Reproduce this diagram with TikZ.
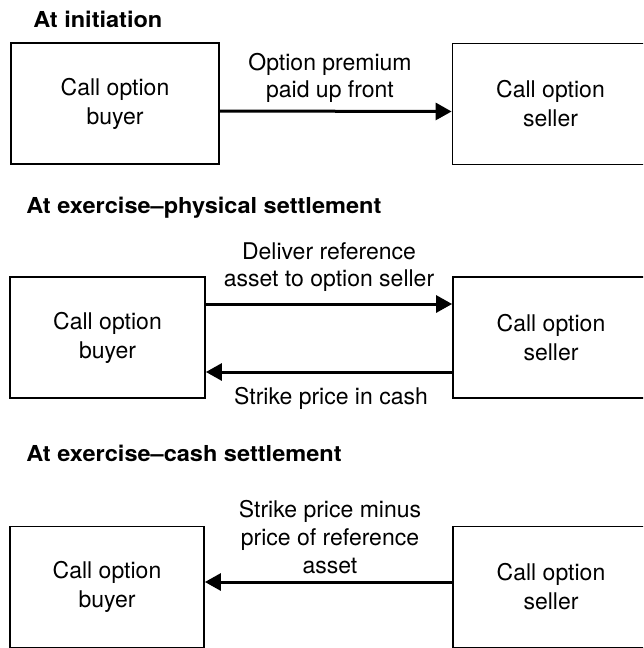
\documentclass[tikz,border=0pt]{standalone}
\usepackage{fontspec}
\setmainfont{TeX Gyre Heros}
\newfontfamily\headfont{TeX Gyre Heros}[FakeStretch=1.07, Ligatures=TeX]
\usetikzlibrary{arrows.meta}

\begin{document}
\begin{tikzpicture}[
             x                = 0.5pt,
             y                = -0.5pt,
             party/.style     = {draw, line width=0.9pt, minimum height=60.5pt,
                                 inner sep=0pt, align=center,
                                 font=\fontsize{11.5}{14.5}\selectfont},
             flowlabel/.style = {align=center, inner sep=0pt,
                                 font=\fontsize{11.5}{13.8}\selectfont},
             heading/.style   = {anchor=base west, inner sep=0pt,
                                 font=\headfont\bfseries\fontsize{11}{13}\selectfont},
             flow/.style      = {line width=1.5pt, -{Triangle[length=8pt, width=8.5pt]}}]
             \useasboundingbox (0,0) rectangle (643,648);
             \clip (0,0) rectangle (643,648);
             % at initiation
             \node [heading] (initHead) at (33,27) {At initiation};
             \node [party, minimum width=104pt] (buyerInit)  at (115,103.5) {Call option\\buyer};
             \node [party, minimum width=98pt]  (sellerInit) at (550.5,104) {Call option\\seller};
             \node [flowlabel] (premium) at (330,78) {Option premium\\paid up front};
             \draw [flow] ([yshift=-3.75pt]buyerInit.east) -- ([yshift=-3.75pt]sellerInit.west);
             % physical settlement
             \node [heading] (physHead) at (26,213) {At exercise\textendash physical settlement};
             \node [party, minimum width=97.5pt] (buyerPhys)  at (107.5,337.5) {Call option\\buyer};
             \node [party, minimum width=98pt]   (sellerPhys) at (551,337.5) {Call option\\seller};
             \node [flowlabel] (deliver) at (329,267) {Deliver reference\\asset to option seller};
             \node [flowlabel] (strike)  at (331,398) {Strike price in cash};
             \draw [flow] ([yshift=16.75pt]buyerPhys.east) -- ([yshift=16.75pt]sellerPhys.west);
             \draw [flow] ([yshift=-17.25pt]sellerPhys.west) -- ([yshift=-17.25pt]buyerPhys.east);
             % cash settlement
             \node [heading] (cashHead) at (26,461) {At exercise\textendash cash settlement};
             \node [party, minimum width=97pt] (buyerCash)  at (107,587) {Call option\\buyer};
             \node [party, minimum width=98pt] (sellerCash) at (551,587) {Call option\\seller};
             \node [flowlabel] (netcash) at (330,537) {Strike price minus\\price of reference\\asset};
             \draw [flow] ([yshift=2.5pt]sellerCash.west) -- ([yshift=2.5pt]buyerCash.east);
    \end{tikzpicture}
\end{document}
